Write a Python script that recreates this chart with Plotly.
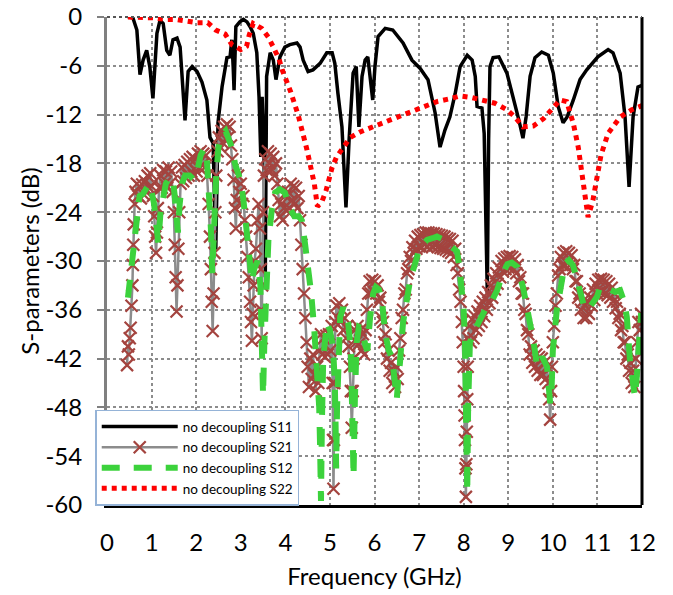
import plotly.graph_objects as go

# ---------------- data ----------------
S11_F = [0.47, 0.58, 0.67, 0.74, 0.81, 0.89, 0.96, 1.03, 1.12, 1.19, 1.26, 1.34, 1.41, 1.48, 1.57, 1.64,
         1.75, 1.82, 1.91, 2.02, 2.13, 2.24, 2.31, 2.38, 2.44, 2.46, 2.49, 2.58, 2.69, 2.76, 2.8, 2.83,
         2.85, 2.89, 2.98, 3.06, 3.14, 3.21, 3.28, 3.36, 3.41, 3.45, 3.48, 3.52, 3.55, 3.58, 3.66, 3.73,
         3.79, 3.88, 3.99, 4.1, 4.26, 4.33, 4.4, 4.51, 4.62, 4.78, 4.93, 5.05, 5.11, 5.18, 5.27, 5.36,
         5.43, 5.52, 5.59, 5.65, 5.72, 5.79, 5.85, 5.96, 6.01, 6.08, 6.24, 6.41, 6.64, 6.84, 7.02, 7.2,
         7.36, 7.47, 7.58, 7.69, 7.81, 7.92, 8.08, 8.19, 8.26, 8.3, 8.41, 8.46, 8.53, 8.56, 8.59, 8.66,
         8.79, 8.97, 9.11, 9.24, 9.33, 9.4, 9.49, 9.6, 9.75, 9.9, 10.01, 10.12, 10.23, 10.32, 10.46,
         10.61, 10.76, 11.01, 11.24, 11.35, 11.51, 11.62, 11.71, 11.8, 11.91, 12.0]
S11_DB = [0, -0.1, -1.6, -7.1, -5.3, -4.1, -6.1, -10, -2.0, -0.4, -0.8, -4.1, -4.7, -2.8, -2.6, -3.7,
          -12.7, -6.7, -6.1, -6.7, -8, -10.2, -14.8, -15.5, -28.6, -20, -13, -8.6, -5.0, -4.9, -2.8, -6.1,
          -9.0, -1.2, -0.6, -0.3, -0.6, -1.2, -2.0, -4.4, -9.8, -17.2, -9.8, -16, -32, -7.3, -4.4, -5.3,
          -7.7, -4.9, -3.7, -3.4, -3.2, -3.7, -5.3, -6.7, -6.5, -5.7, -4.4, -4.4, -5.7, -9.4, -13.5, -23.4,
          -15.1, -6.9, -6.1, -13.5, -7.3, -5.3, -4.9, -10.2, -6.1, -2.4, -1.4, -1.6, -3.2, -5.3, -6.3, -7.7,
          -11.8, -16, -13.9, -12.3, -9.4, -6.1, -4.7, -5.3, -7.3, -11, -11.2, -14.3, -34, -15, -6.1, -5.0,
          -4.9, -6.9, -9.8, -12.7, -14.9, -12.3, -7.3, -5.0, -4.3, -4.7, -6.9, -11, -13, -12.3, -10.2,
          -7.7, -6.5, -4.9, -4.0, -4.4, -6.9, -12.3, -20.9, -12.3, -8.6, -8.4]

S21_POINTS = [
    (0.45, -42.8), (0.47, -40.5), (0.49, -41.5), (0.51, -39.5), (0.53, -38.2), (0.55, -35.5), (0.57, -33),
    (0.58, -30.5), (0.59, -28), (0.6, -25.5), (0.62, -23), (0.64, -21.5), (0.67, -20.5), (0.7, -22),
    (0.73, -20.8), (0.76, -22.3), (0.79, -20.6), (0.82, -21.8), (0.85, -20.2), (0.88, -21.5), (0.91, -19.5),
    (0.94, -21), (0.97, -19.2), (1.0, -20.8), (1.03, -22), (1.06, -24.5), (1.08, -27), (1.1, -29),
    (1.12, -26.5), (1.14, -23.5), (1.17, -21), (1.2, -19.5), (1.23, -21), (1.26, -18.8), (1.29, -20.5),
    (1.32, -19), (1.35, -21), (1.38, -18.5), (1.41, -20.5), (1.44, -19), (1.47, -21.5), (1.5, -24),
    (1.52, -28), (1.54, -32), (1.56, -36.2), (1.58, -33), (1.6, -28.5), (1.62, -24), (1.65, -20.5),
    (1.68, -18.5), (1.71, -20.2), (1.74, -18.2), (1.77, -19.8), (1.8, -17.8), (1.83, -19.5), (1.86, -17.5),
    (1.89, -19), (1.92, -17.2), (1.95, -19.5), (1.98, -17.5), (2.01, -19), (2.04, -16.8), (2.07, -18.5),
    (2.1, -16.5), (2.13, -18.2), (2.16, -16.8), (2.19, -18.5), (2.22, -17), (2.25, -19.5), (2.28, -23),
    (2.31, -27), (2.33, -31), (2.35, -35), (2.37, -38.6), (2.39, -34), (2.41, -29), (2.43, -24),
    (2.45, -19.5), (2.48, -16.5), (2.51, -14.8), (2.54, -16), (2.57, -14), (2.6, -15.5), (2.63, -13.5),
    (2.66, -15), (2.69, -13.2), (2.72, -14.8), (2.75, -13.5), (2.78, -15.8), (2.81, -17.5), (2.84, -20),
    (2.87, -23.5), (2.89, -26), (2.91, -22.5), (2.94, -19.5), (2.97, -21.5), (3.0, -20.5), (3.03, -23),
    (3.06, -22), (3.09, -25), (3.12, -27), (3.15, -29.5), (3.18, -32), (3.21, -35), (3.23, -37.5),
    (3.25, -39.8), (3.27, -36.5), (3.29, -33), (3.31, -30), (3.34, -28.5), (3.37, -25), (3.4, -23),
    (3.43, -26), (3.45, -31), (3.46, -36), (3.47, -39.5), (3.48, -33), (3.5, -24), (3.52, -19.5),
    (3.55, -17.5), (3.58, -18.8), (3.61, -16.5), (3.64, -18), (3.67, -16.8), (3.7, -18.8), (3.73, -17.2),
    (3.76, -19.5), (3.79, -18), (3.82, -20.5), (3.85, -22.5), (3.88, -24.5), (3.91, -23), (3.94, -25),
    (3.97, -23.5), (4.0, -22), (4.03, -23.8), (4.06, -21.5), (4.09, -23.5), (4.12, -20.5), (4.15, -22.5),
    (4.18, -20.8), (4.21, -23), (4.24, -21), (4.27, -23.5), (4.3, -22), (4.33, -25), (4.36, -28),
    (4.39, -31), (4.42, -34), (4.45, -37), (4.48, -40), (4.5, -43), (4.53, -45.5), (4.56, -42),
    (4.59, -44.5), (4.62, -41.5), (4.65, -44), (4.68, -46), (4.71, -43), (4.74, -45), (4.77, -41),
    (4.8, -39), (4.83, -41.5), (4.86, -39.5), (4.89, -41.8), (4.92, -39.2), (4.95, -41.5), (4.98, -39),
    (5.01, -41), (5.04, -38), (5.06, -45), (5.07, -52), (5.08, -58), (5.09, -52), (5.1, -45),
    (5.12, -37.5), (5.15, -35.5), (5.18, -37), (5.21, -35.2), (5.24, -37.5), (5.27, -36), (5.3, -38.5),
    (5.33, -37), (5.36, -39.5), (5.39, -38), (5.42, -40.5), (5.45, -43), (5.47, -46), (5.49, -50.5),
    (5.51, -46), (5.53, -42), (5.56, -38.5), (5.59, -40), (5.62, -38), (5.65, -40.2), (5.68, -38.5),
    (5.71, -41), (5.74, -39), (5.77, -41.5), (5.8, -38.5), (5.83, -36), (5.86, -34), (5.89, -32.5),
    (5.92, -34), (5.95, -32.3), (5.98, -33.8), (6.01, -32.5), (6.04, -34), (6.07, -33), (6.1, -35),
    (6.13, -34.5), (6.16, -37), (6.19, -37.5), (6.22, -40), (6.25, -39), (6.28, -42), (6.31, -41),
    (6.34, -43.5), (6.37, -42.5), (6.4, -45), (6.43, -43.5), (6.46, -45.5), (6.49, -43), (6.52, -44.5),
    (6.55, -41), (6.58, -39.5), (6.61, -37), (6.64, -36), (6.67, -34), (6.7, -33.5), (6.73, -31.5),
    (6.76, -31), (6.79, -29.5), (6.82, -30), (6.85, -28.3), (6.88, -29), (6.91, -27.5), (6.94, -28.5),
    (6.97, -27), (7.0, -28.2), (7.03, -26.8), (7.06, -28.3), (7.09, -26.7), (7.12, -28), (7.15, -26.5),
    (7.18, -28.2), (7.21, -26.5), (7.24, -28), (7.27, -26.6), (7.3, -28.2), (7.33, -26.6), (7.36, -28.1),
    (7.39, -26.7), (7.42, -28.3), (7.45, -26.8), (7.48, -28.4), (7.51, -26.9), (7.54, -28.5), (7.57, -27),
    (7.6, -28.6), (7.63, -27.2), (7.66, -28.8), (7.69, -27.3), (7.72, -29), (7.75, -27.5), (7.78, -29.5),
    (7.81, -28.5), (7.84, -30.5), (7.87, -31.5), (7.9, -33.5), (7.93, -35), (7.96, -37.5), (7.98, -40),
    (8.0, -43), (8.01, -46), (8.02, -49), (8.03, -52), (8.04, -55.5), (8.05, -59), (8.06, -55),
    (8.07, -51), (8.08, -47), (8.09, -43), (8.1, -39.5), (8.13, -38), (8.16, -40), (8.19, -37.2),
    (8.22, -39.5), (8.25, -36.8), (8.28, -38.5), (8.31, -36.2), (8.34, -38), (8.37, -35.5), (8.4, -37.5),
    (8.43, -35), (8.46, -36.8), (8.49, -34.5), (8.52, -36), (8.55, -33.8), (8.58, -35.2), (8.61, -33),
    (8.64, -34.5), (8.67, -32.2), (8.7, -33.5), (8.73, -31.5), (8.76, -32.8), (8.79, -30.8), (8.82, -32),
    (8.85, -30), (8.88, -31.3), (8.91, -29.7), (8.94, -31), (8.97, -29.5), (9.0, -30.8), (9.03, -29.4),
    (9.06, -30.8), (9.09, -29.5), (9.12, -31), (9.15, -29.8), (9.18, -31.5), (9.21, -30.5), (9.24, -32.5),
    (9.27, -32), (9.3, -34), (9.33, -34), (9.36, -36), (9.39, -36.5), (9.42, -38.5), (9.45, -39),
    (9.48, -41.5), (9.51, -40.5), (9.54, -42.5), (9.57, -41), (9.6, -43), (9.63, -41.5), (9.66, -43.5),
    (9.69, -41.8), (9.72, -44), (9.75, -42), (9.78, -44), (9.81, -42.5), (9.84, -44.5), (9.87, -43),
    (9.9, -45), (9.92, -47), (9.94, -49.5), (9.96, -46), (9.98, -43), (10.0, -40), (10.03, -38),
    (10.06, -35.5), (10.09, -34), (10.12, -31.8), (10.15, -31), (10.18, -29.5), (10.21, -30.5),
    (10.24, -29), (10.27, -30.5), (10.3, -28.8), (10.33, -30.3), (10.36, -29), (10.39, -30.5),
    (10.42, -29.3), (10.45, -31), (10.48, -30.5), (10.51, -32.5), (10.54, -32.5), (10.57, -34.5),
    (10.6, -34), (10.63, -36), (10.66, -35), (10.69, -37), (10.72, -35.5), (10.75, -37), (10.78, -35),
    (10.81, -36.5), (10.84, -34.5), (10.87, -35.5), (10.9, -33.5), (10.93, -34.8), (10.96, -32.8),
    (10.99, -34), (11.02, -32.3), (11.05, -33.8), (11.08, -32.2), (11.11, -33.8), (11.14, -32.3),
    (11.17, -34), (11.2, -32.5), (11.23, -34.2), (11.26, -32.8), (11.29, -34.5), (11.32, -33.3),
    (11.35, -35), (11.38, -34), (11.41, -35.8), (11.44, -35), (11.47, -37), (11.5, -36.5), (11.53, -38.5),
    (11.56, -38), (11.59, -40), (11.62, -40), (11.65, -42), (11.68, -41.5), (11.71, -43.5), (11.74, -42.5),
    (11.77, -45), (11.8, -43.5), (11.83, -45.5), (11.86, -42), (11.89, -40), (11.92, -37.5), (11.95, -38.5),
    (11.98, -36.5), (12.0, -37.5),
]

S12_POINTS = [
    (0.47, -34.5), (0.53, -31.5), (0.58, -28.5), (0.63, -26.5), (0.68, -23.5), (0.73, -22), (0.8, -21.8),
    (0.88, -21), (0.95, -20.5), (1.0, -21.5), (1.05, -22.8), (1.1, -25), (1.15, -27.8), (1.2, -24),
    (1.25, -22), (1.32, -20.5), (1.4, -19.8), (1.47, -19.8), (1.52, -22), (1.56, -25.5), (1.59, -26.5),
    (1.63, -23), (1.68, -20.5), (1.75, -19.5), (1.85, -19.5), (1.95, -20), (2.02, -19), (2.1, -17),
    (2.18, -16.2), (2.24, -17.5), (2.29, -21), (2.33, -26), (2.36, -31.5), (2.4, -25), (2.45, -19.5),
    (2.5, -16), (2.58, -14.5), (2.66, -14), (2.73, -14.8), (2.8, -16), (2.87, -18), (2.94, -19.2),
    (3.0, -20.2), (3.06, -22.5), (3.12, -25.5), (3.18, -29), (3.25, -32.5), (3.3, -31), (3.38, -30),
    (3.44, -33), (3.47, -38), (3.5, -46.5), (3.53, -40), (3.57, -33), (3.62, -27.5), (3.7, -23.5),
    (3.77, -21.6), (3.88, -21.2), (3.99, -21.6), (4.1, -23.5), (4.2, -24.5), (4.3, -24.5), (4.37, -25),
    (4.44, -27.8), (4.51, -30.7), (4.58, -34), (4.65, -38.5), (4.72, -43.5), (4.76, -48), (4.78, -53),
    (4.8, -59.5), (4.82, -50), (4.85, -42), (4.93, -37.6), (5.0, -38.5), (5.07, -40.6), (5.11, -45),
    (5.13, -51), (5.14, -55.5), (5.16, -48), (5.2, -39), (5.23, -36.9), (5.3, -35.7), (5.41, -37.6),
    (5.47, -41), (5.5, -46), (5.52, -52), (5.53, -56.5), (5.56, -47), (5.6, -40), (5.65, -38.1),
    (5.72, -38.3), (5.8, -40.5), (5.84, -41), (5.9, -37), (5.97, -34), (6.03, -33.2), (6.1, -33.5),
    (6.17, -35), (6.24, -38.9), (6.32, -41), (6.39, -41.8), (6.45, -44.5), (6.5, -47), (6.54, -44),
    (6.57, -42.6), (6.64, -37.6), (6.72, -34.5), (6.8, -32.3), (6.9, -30.5), (6.98, -29), (7.08, -28),
    (7.18, -27.4), (7.3, -27.2), (7.4, -27), (7.52, -27.3), (7.63, -27.8), (7.75, -28.2), (7.85, -28.8),
    (7.9, -30.5), (7.96, -33), (8.0, -36), (8.03, -40), (8.05, -45), (8.07, -51), (8.08, -58.5),
    (8.1, -48), (8.14, -40), (8.21, -38.9), (8.32, -37.6), (8.48, -36), (8.64, -34.8), (8.75, -33.6),
    (8.88, -31.5), (8.98, -30.4), (9.08, -30.2), (9.2, -30.7), (9.33, -33.2), (9.44, -36), (9.56, -39.7),
    (9.65, -43), (9.76, -41.8), (9.87, -43), (9.94, -47.5), (9.97, -46), (10.0, -41), (10.09, -36),
    (10.18, -32.5), (10.27, -30.3), (10.36, -29.9), (10.45, -30.5), (10.53, -32), (10.61, -34),
    (10.72, -36), (10.85, -35.5), (10.99, -34.4), (11.06, -33.2), (11.2, -33.3), (11.4, -33.8),
    (11.51, -33.6), (11.6, -35), (11.66, -36.9), (11.73, -42.2), (11.8, -45), (11.84, -46.7),
    (11.88, -44.5), (11.91, -41.8), (11.98, -36.4),
]

S22_F = [0.47, 0.78, 1.04, 1.3, 1.55, 1.79, 2.03, 2.26, 2.44, 2.65, 2.8, 3.0, 3.13, 3.19, 3.28, 3.47,
         3.62, 3.74, 3.86, 3.93, 4.03, 4.12, 4.29, 4.42, 4.48, 4.54, 4.6, 4.65, 4.72, 4.82, 4.91, 4.98,
         5.05, 5.15, 5.32, 5.46, 5.69, 5.92, 6.18, 6.42, 6.64, 6.91, 7.17, 7.4, 7.65, 7.92, 8.18, 8.41,
         8.7, 8.97, 9.15, 9.33, 9.56, 9.79, 9.98, 10.16, 10.31, 10.46, 10.57, 10.65, 10.73, 10.79, 10.9,
         10.99, 11.08, 11.24, 11.51, 11.77, 12.0]
S22_DB = [0, 0, -0.1, -0.3, -0.3, -0.5, -0.7, -0.7, -1.6, -2.1, -3.4, -4.0, -3.6, -2.2, -0.8, -1.4,
          -2.5, -3.8, -5.2, -6.5, -7.9, -9.2, -12.1, -14.7, -16.2, -17.7, -19.1, -20.5, -23.3, -22.7, -21.4,
          -20, -18.5, -17.2, -16, -14.8, -14.1, -13.6, -13, -12.4, -11.9, -11.4, -10.9, -10.4, -10.1, -9.7,
          -9.9, -10.2, -10.6, -11.4, -12.3, -13.5, -13.4, -12.5, -11.2, -10.2, -10.4, -13.1, -16, -18.8,
          -21.7, -24.6, -22.5, -19.8, -17, -14.3, -12.3, -11.4, -10.9]

SERIES_NAMES = ["no decoupling S11", "no decoupling S21", "no decoupling S12", "no decoupling S22"]
X_TICKS = list(range(0, 13))
Y_TICKS = [0, -6, -12, -18, -24, -30, -36, -42, -48, -54, -60]
Y_TICK_LABELS = ["0", "-6", "-12", "-18", "-24", "-30", "-36", "-42", "-48", "-54", "-60"]

# ---------------- figure ----------------
FONT = "Lato"
s21_f = [p[0] for p in S21_POINTS]
s21_db = [p[1] for p in S21_POINTS]
s12_f = [p[0] for p in S12_POINTS]
s12_db = [p[1] for p in S12_POINTS]

fig = go.Figure()
fig.add_trace(go.Scatter(x=S11_F, y=S11_DB, mode="lines", name=SERIES_NAMES[0],
                         line=dict(color="black", width=3.5)))
fig.add_trace(go.Scatter(x=s21_f, y=s21_db, mode="lines+markers", name=SERIES_NAMES[1],
                         line=dict(color="#8c8c8c", width=2.5),
                         marker=dict(symbol="x-thin", size=12, color="#a4443f",
                                     line=dict(color="#a4443f", width=2.2))))
fig.add_trace(go.Scatter(x=s12_f, y=s12_db, mode="lines", name=SERIES_NAMES[2],
                         line=dict(color="#3cd23c", width=6, dash="18px,14px")))
fig.add_trace(go.Scatter(x=S22_F, y=S22_DB, mode="lines", name=SERIES_NAMES[3],
                         line=dict(color="#ff0000", width=5, dash="dot")))

fig.update_layout(
    width=673, height=595,
    margin=dict(l=107, r=31, t=17, b=90),
    paper_bgcolor="white", plot_bgcolor="white",
    font=dict(family=FONT, color="black"),
    showlegend=True,
    legend=dict(x=-0.022, y=0.195, xanchor="left", yanchor="top",
                bgcolor="white", bordercolor="#95b3d7", borderwidth=1.5,
                font=dict(family=FONT, size=13.5, color="black"),
                itemwidth=76, tracegroupgap=0),
    xaxis=dict(range=[0, 12], tickvals=X_TICKS, showgrid=True, gridcolor="#8c8c8c",
               griddash="dot", gridwidth=2, zeroline=False, showline=True,
               linecolor="black", linewidth=3, ticks="", automargin=False,
               ticklabeloverflow="allow",
               tickfont=dict(family=FONT, size=24), ticklabelstandoff=14,
               title=dict(text="Frequency (GHz)", font=dict(family=FONT, size=24), standoff=14)),
    yaxis=dict(range=[-60, 0], tickvals=Y_TICKS, ticktext=Y_TICK_LABELS, showgrid=True,
               gridcolor="#8c8c8c", griddash="dot", gridwidth=2, zeroline=False,
               showline=True, linecolor="#808080", linewidth=3, automargin=False,
               ticklabeloverflow="allow",
               ticks="outside", ticklen=7, tickcolor="#808080", tickwidth=2,
               tickfont=dict(family=FONT, size=24), ticklabelstandoff=10,
               title=dict(text="S-parameters (dB)", font=dict(family=FONT, size=24), standoff=0)),
    shapes=[
        dict(type="line", xref="paper", yref="paper", x0=1, x1=1, y0=0, y1=1,
             line=dict(color="black", width=3)),
        dict(type="line", xref="paper", yref="paper", x0=0, x1=1, y0=1, y1=1,
             line=dict(color="#555555", width=2, dash="dot")),
    ],
)

# remove the browser's default 8 px page margin so the figure sits at the window's corner
fig.write_html("out.html", config={"displayModeBar": False},
               post_script="document.body.style.margin='0';")
